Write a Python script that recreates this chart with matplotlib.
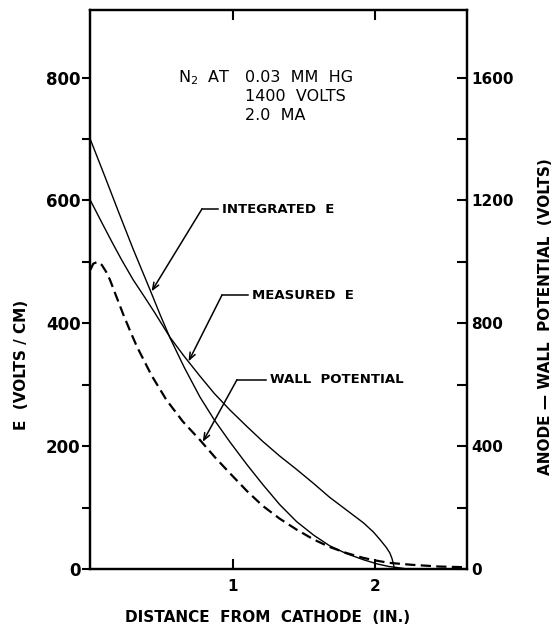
import numpy as np
import matplotlib
matplotlib.use("Agg")
import matplotlib.pyplot as plt

# values (x in inches, E in volts/cm)
dist_int = [0, 0.1, 0.2, 0.3, 0.42, 0.49, 0.56, 0.66, 0.77, 0.87, 0.98, 1.1, 1.21,
            1.33, 1.45, 1.57, 1.68, 1.8, 1.92, 2.02, 2.1, 2.2]
e_int = [699, 640, 580, 521, 454, 414, 376, 328, 280, 243, 207, 170, 138,
         105, 77, 55, 38, 25, 15, 8, 4, 1]

dist_meas = [0, 0.08, 0.15, 0.22, 0.30, 0.38, 0.45, 0.56, 0.66, 0.77, 0.87, 0.98,
             1.1, 1.21, 1.33, 1.45, 1.57, 1.68, 1.8, 1.92, 1.99, 2.035, 2.08,
             2.105, 2.12, 2.13, 2.135]
e_meas = [600, 564, 533, 503, 471, 443, 418, 377, 346, 314, 286, 259,
          232, 208, 184, 162, 139, 117, 96, 75, 60, 48, 35,
          26, 17, 8, 2]

dist_wall = [0, 0.02, 0.05, 0.08, 0.11, 0.137, 0.18, 0.23, 0.28, 0.327, 0.43,
             0.535, 0.65, 0.77, 0.875, 0.98, 1.1, 1.21, 1.33, 1.45, 1.57, 1.68,
             1.8, 1.92, 2.0, 2.1, 2.25, 2.45, 2.62]
e_wall = [487, 497, 500, 495, 484, 471, 445, 415, 387, 362, 315,
          275, 240, 210, 182, 156, 127, 103, 82, 64, 48, 36,
          26, 18, 14, 10, 7, 4, 3]

left_major = [0, 200, 400, 600, 800]
left_minor = [100, 300, 500, 700]
right_major = [0, 400, 800, 1200, 1600]
right_minor = [200, 600, 1000, 1400]
x_ticks = [1, 2]

# leader labels: text, text position, elbow, arrow tip
labels = ["INTEGRATED  E", "MEASURED  E", "WALL  POTENTIAL"]
label_xy = [(0.925, 586), (1.135, 446), (1.265, 308)]
elbow_xy = [(0.784, 586), (0.925, 446), (1.03, 308)]
tip_xy = [(0.43, 452), (0.69, 338), (0.79, 207)]

fig = plt.figure(figsize=(5.56, 6.29), dpi=100)
ax = fig.add_axes([0.1626, 0.0954, 0.6773, 0.8887])

ax.plot(dist_int, e_int, color="black", lw=1.0)
ax.plot(dist_meas, e_meas, color="black", lw=1.0)
ax.plot(dist_wall, e_wall, color="black", lw=1.6, dashes=(4.6, 2.4))

ax.set_xlim(0, 2.647)
ax.set_ylim(0, 910)

for sp in ax.spines.values():
    sp.set_linewidth(1.6)

ax.set_yticks(left_major)
ax.set_yticks(left_minor, minor=True)
ax.tick_params(axis="y", which="both", direction="out", length=5.5, width=1.5,
               labelsize=12, pad=1.5)
for t in ax.get_yticklabels():
    t.set_fontweight("bold")

ax.set_xticks(x_ticks)
ax.set_xticklabels(["1", "2"], fontsize=11, fontweight="bold")
ax.tick_params(axis="x", which="both", direction="in", top=True, length=7,
               width=1.5, pad=7)

ax2 = ax.twinx()
ax2.set_ylim(0, 1820)
ax2.set_yticks(right_major)
ax2.set_yticks(right_minor, minor=True)
ax2.tick_params(axis="y", which="both", direction="in", length=7.5, width=1.5,
                labelsize=11, pad=3)
for t in ax2.get_yticklabels():
    t.set_fontweight("bold")
for sp in ax2.spines.values():
    sp.set_linewidth(1.6)

# leader lines with arrows
for txt, (tx, ty), (ex, ey), (px, py) in zip(labels, label_xy, elbow_xy, tip_xy):
    ax.plot([ex, tx - 0.03], [ey, ey], color="black", lw=1.1)
    ax.annotate("", xy=(px, py), xytext=(ex, ey),
                arrowprops=dict(arrowstyle="->,head_length=0.5,head_width=0.2",
                                color="black", lw=1.1, shrinkA=0, shrinkB=0))
    ax.text(tx, ty, txt, fontsize=9.5, fontweight="bold", ha="left", va="center")

# condition block
ax.text(0.617, 800, "N$_{2}$  AT", fontsize=11.5, ha="left", va="center")
ax.text(1.085, 800, "0.03  MM  HG", fontsize=11.5, ha="left", va="center")
ax.text(1.085, 769, "1400  VOLTS", fontsize=11.5, ha="left", va="center")
ax.text(1.085, 738, "2.0  MA", fontsize=11.5, ha="left", va="center")

fig.text(22 / 556, 1 - 365 / 629, "E  (VOLTS / CM)", rotation=90, ha="center",
         va="center", fontsize=11, fontweight="bold")
fig.text(546 / 556, 1 - 317 / 629, "ANODE \u2014 WALL  POTENTIAL  (VOLTS)",
         rotation=90, ha="center", va="center", fontsize=11, fontweight="bold")
fig.text(268 / 556, 1 - 618 / 629, "DISTANCE  FROM  CATHODE  (IN.)",
         ha="center", va="center", fontsize=11, fontweight="bold")

fig.savefig("out.png", dpi=100, facecolor="white")
